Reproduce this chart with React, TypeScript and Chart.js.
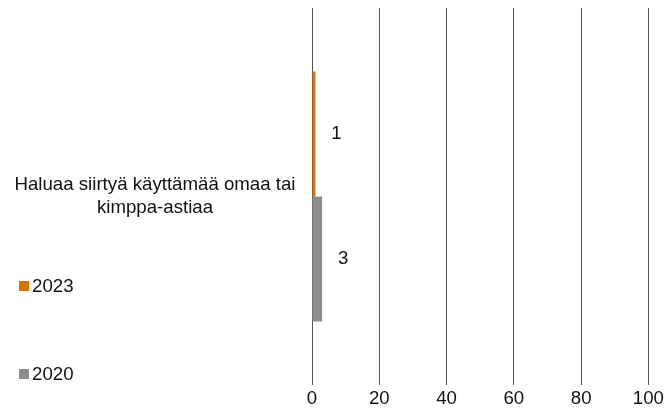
import React, { useEffect, useRef } from "react";
import { Chart, registerables } from "chart.js";

Chart.register(...registerables);

const categories: string[][] = [["Haluaa siirtyä käyttämää omaa tai", "kimppa-astiaa"]];
const seriesLabels = ["2023", "2020"];
const values2023 = [1];
const values2020 = [3];
const seriesColors = ["#D97100", "#8C8C8C"];
const xMin = 0;
const xMax = 100;
const xStep = 20;

const FONT = "'Liberation Sans', Arial, sans-serif";
const FS = 18.67;
const TEXT = "#111111";

const dataLabelPlugin = {
  id: "dataLabels",
  afterDatasetsDraw(chart: any) {
    const ctx = chart.ctx;
    ctx.save();
    ctx.font = `${FS}px ${FONT}`;
    ctx.fillStyle = TEXT;
    ctx.textAlign = "left";
    ctx.textBaseline = "middle";
    chart.data.datasets.forEach((ds: any, i: number) => {
      const meta = chart.getDatasetMeta(i);
      meta.data.forEach((el: any, j: number) => {
        ctx.fillText(String(ds.data[j]), el.x + 16, el.y);
      });
    });
    ctx.restore();
  },
};

export default function App() {
  const ref = useRef<HTMLCanvasElement | null>(null);
  useEffect(() => {
    if (!ref.current) return;
    const chart = new Chart(ref.current, {
      type: "bar",
      data: {
        labels: categories as any,
        datasets: [
          {
            label: seriesLabels[0],
            data: values2023,
            backgroundColor: seriesColors[0],
            borderWidth: 0,
            categoryPercentage: 0.663,
            barPercentage: 1,
          },
          {
            label: seriesLabels[1],
            data: values2020,
            backgroundColor: seriesColors[1],
            borderWidth: 0,
            categoryPercentage: 0.663,
            barPercentage: 1,
          },
        ],
      },
      options: {
        indexAxis: "y",
        animation: false,
        responsive: false,
        maintainAspectRatio: false,
        layout: { padding: { top: 8, right: 17, bottom: 0, left: 0 } },
        plugins: {
          legend: { display: false },
          tooltip: { enabled: false },
        },
        scales: {
          x: {
            min: xMin,
            max: xMax,
            ticks: {
              stepSize: xStep,
              color: TEXT,
              font: { family: FONT, size: FS, lineHeight: 1.17 },
              padding: 3,
            },
            grid: { color: "#555555", lineWidth: 1, drawTicks: false },
            border: { display: false },
            afterFit(scale: any) {
              scale.height = 30;
            },
          },
          y: {
            ticks: {
              color: TEXT,
              font: { family: FONT, size: FS, lineHeight: 1.23 },
              crossAlign: "center",
              padding: 8.5,
            },
            grid: { display: false },
            border: { display: false },
            afterFit(scale: any) {
              scale.width = 312;
              scale.paddingTop = 0;
              scale.paddingBottom = 0;
            },
          },
        },
      },
      plugins: [dataLabelPlugin],
    });
    return () => chart.destroy();
  }, []);

  const legendItem = (label: string, color: string, top: number) => (
    <div
      style={{
        position: "absolute",
        left: 19,
        top,
        display: "flex",
        alignItems: "center",
        fontFamily: FONT,
        fontSize: FS,
        color: TEXT,
        lineHeight: "22px",
      }}
    >
      <span style={{ display: "inline-block", width: 10, height: 10, background: color, marginRight: 3 }} />
      <span>{label}</span>
    </div>
  );

  return (
    <div style={{ position: "fixed", left: 0, top: 0, width: 667, height: 415, background: "#fff" }}>
      <canvas ref={ref} width={667} height={415} style={{ display: "block" }} />
      {legendItem(seriesLabels[0], seriesColors[0], 275)}
      {legendItem(seriesLabels[1], seriesColors[1], 363)}
    </div>
  );
}
